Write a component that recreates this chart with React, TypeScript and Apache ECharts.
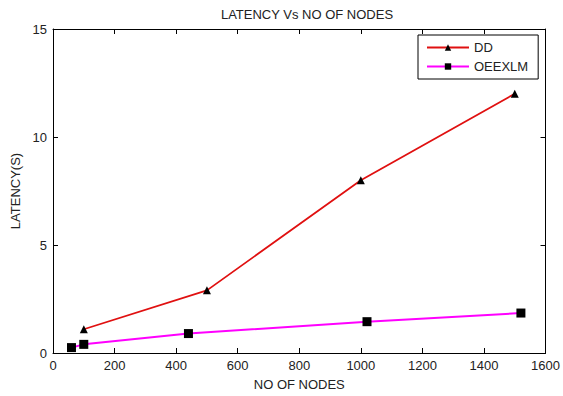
import React, { useEffect, useRef } from "react";
import * as echarts from "echarts";

const ddX = [100, 500, 1000, 1500];
const ddY = [1.1, 2.9, 8, 12];
const oeX = [60, 100, 440, 1020, 1520];
const oeY = [0.25, 0.4, 0.9, 1.45, 1.85];
const seriesNames = ["DD", "OEEXLM"];
const titleText = "LATENCY Vs NO OF NODES";
const xName = "NO OF NODES";
const yName = "LATENCY(S)";

const font = "Liberation Sans, Arial, sans-serif";

export default function App() {
  const ref = useRef<HTMLDivElement>(null);
  useEffect(() => {
    if (!ref.current) return;
    const chart = echarts.init(ref.current, null, { renderer: "svg" });
    const axisCommon = {
      min: 0,
      axisLine: { show: true, onZero: false, lineStyle: { color: "#000", width: 1 } },
      axisTick: { show: true, inside: true, length: 5, lineStyle: { color: "#000" } },
      splitLine: { show: false },
    };
    const labelStyle = { fontFamily: font, fontSize: 13, color: "#222" };
    chart.setOption({
      animation: false,
      backgroundColor: "#fff",
      title: {
        text: titleText,
        left: 302,
        textAlign: "center",
        top: 3,
        textStyle: { fontFamily: font, fontSize: 13, fontWeight: "normal", color: "#222" },
      },
      grid: { left: 53, right: 13, top: 29, bottom: 39 },
      legend: {
        orient: "vertical",
        left: 418,
        top: 35,
        padding: [6, 10, 6, 8],
        itemGap: 6,
        itemWidth: 42,
        itemHeight: 8,
        borderColor: "#000",
        borderWidth: 1,
        backgroundColor: "#fff",
        textStyle: { ...labelStyle, padding: [0, 0, 0, 0] },
        data: seriesNames,
      },
      xAxis: [
        {
          ...axisCommon,
          type: "value",
          position: "bottom",
          max: 1600,
          interval: 200,
          name: xName,
          nameLocation: "middle",
          nameGap: 25,
          nameTextStyle: labelStyle,
          axisLabel: { ...labelStyle, margin: 6, formatter: (v: number) => String(v) },
        },
        {
          ...axisCommon,
          type: "value",
          position: "top",
          max: 1600,
          interval: 200,
          axisLabel: { show: false },
        },
      ],
      yAxis: [
        {
          ...axisCommon,
          type: "value",
          position: "left",
          max: 15,
          interval: 5,
          name: yName,
          nameLocation: "middle",
          nameGap: 30,
          nameTextStyle: labelStyle,
          axisLabel: { ...labelStyle, margin: 6, formatter: (v: number) => String(v) },
        },
        {
          ...axisCommon,
          type: "value",
          position: "right",
          max: 15,
          interval: 5,
          axisLabel: { show: false },
        },
      ],
      series: [
        {
          name: seriesNames[0],
          type: "line",
          data: ddX.map((x, i) => [x, ddY[i]]),
          symbol: "triangle",
          symbolSize: 8,
          lineStyle: { color: "#e01010", width: 1.8 },
          itemStyle: { color: "#000" },
        },
        {
          name: seriesNames[1],
          type: "line",
          data: oeX.map((x, i) => [x, oeY[i]]),
          symbol: "rect",
          symbolSize: 9,
          lineStyle: { color: "#ff00ff", width: 2 },
          itemStyle: { color: "#000" },
        },
      ],
    });
    return () => chart.dispose();
  }, []);
  return <div ref={ref} style={{ width: 563, height: 396, position: "absolute", left: 0, top: 0 }} />;
}
